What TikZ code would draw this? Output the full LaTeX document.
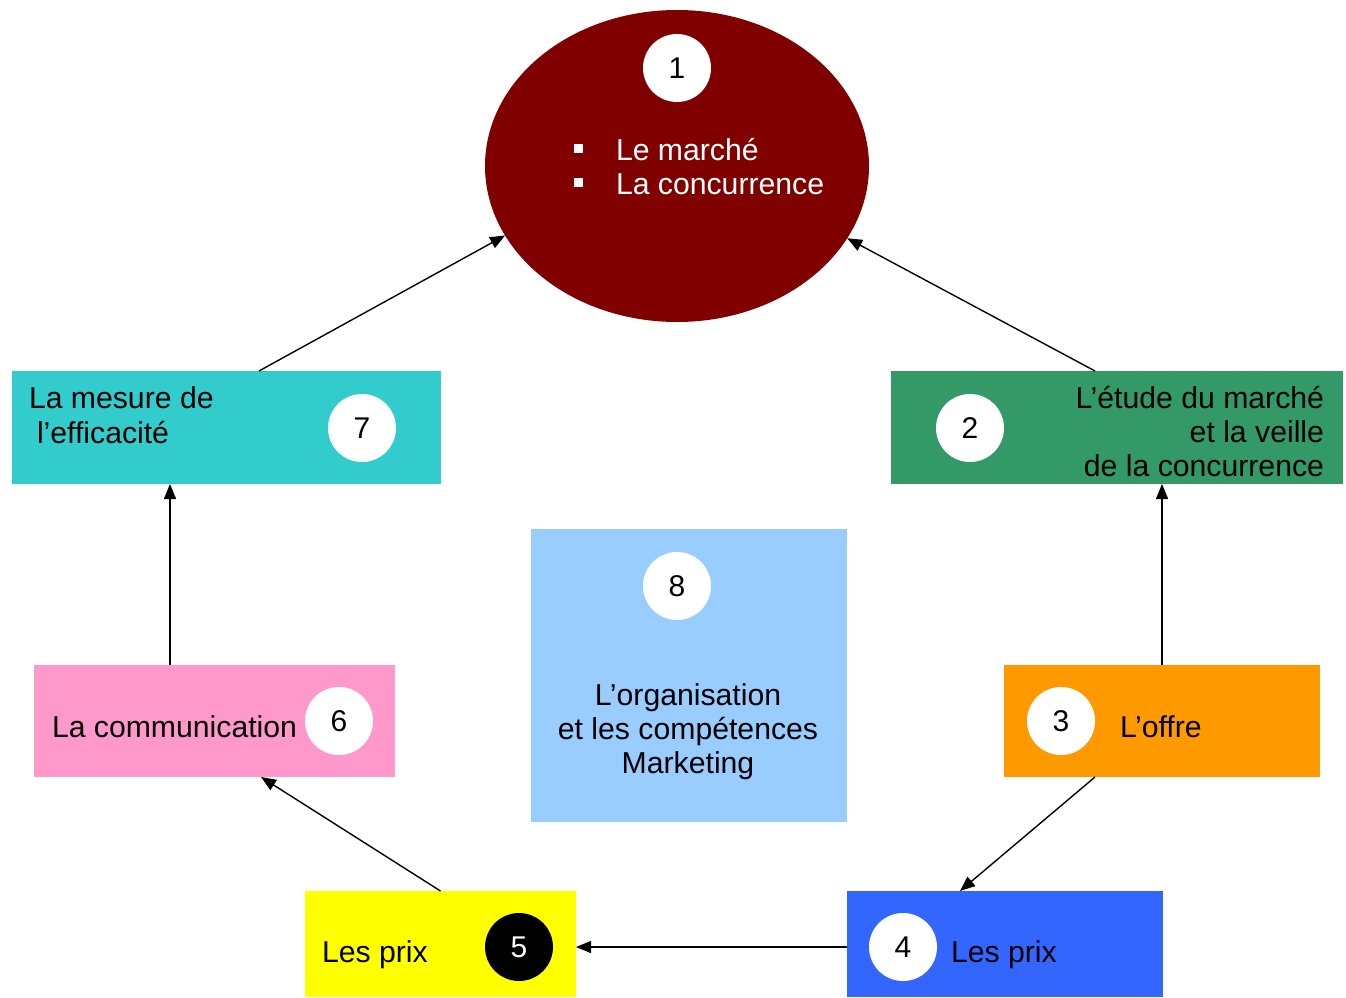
\documentclass[tikz,border=0pt]{standalone}
\usepackage{fontspec}
\setmainfont{Liberation Sans}
\usetikzlibrary{shapes.geometric,arrows.meta,calc}

\definecolor{cMarket}{HTML}{800000}
\definecolor{cMeasure}{HTML}{33CCCC}
\definecolor{cStudy}{HTML}{339966}
\definecolor{cOrg}{HTML}{99CCFF}
\definecolor{cComm}{HTML}{FF99CC}
\definecolor{cOffer}{HTML}{FF9900}
\definecolor{cPrixA}{HTML}{FFFF00}
\definecolor{cPrixB}{HTML}{3366FF}

\tikzset{
  stage/.style={rectangle, draw=none, inner sep=0pt, outer sep=0pt},
  badge/.style={circle, fill=white, draw=none, minimum size=68pt, inner sep=0pt, outer sep=0pt,
    font=\fontsize{30}{34}\selectfont},
  lbl/.style={inner sep=0pt, outer sep=0pt, font=\fontsize{30.2}{34}\selectfont},
  flow/.style={-{Triangle[length=15pt,width=12pt]}, line width=1.4pt, black},
  sqbullet/.style={rectangle, fill=white, draw=none, minimum size=9pt, inner sep=0pt}
}

\begin{document}
\begin{tikzpicture}[x=1pt, y=-1pt]
\useasboundingbox (0,0) rectangle (1346,998);

% central ellipse: the market
\node[ellipse, fill=cMarket, draw=none, minimum width=384pt, minimum height=312pt,
      inner sep=0pt, outer sep=0pt] (e) at (677,166) {};
\node[badge] (n1) at (677,68) {1};
\node[sqbullet] (bu1) at (578.5,148) {};
\node[sqbullet] (bu2) at (578.5,182) {};
\node[lbl, text=white, anchor=base west] (t1a) at (616,160) {Le marché};
\node[lbl, text=white, anchor=base west] (t1b) at (616,194) {La concurrence};

% stage boxes
\node[stage, fill=cMeasure, minimum width=429pt, minimum height=113pt] (b7) at (226.5,427.5) {};
\node[stage, fill=cStudy,   minimum width=452pt, minimum height=113pt] (b2) at (1117,427.5) {};
\node[stage, fill=cOrg,     minimum width=316pt, minimum height=293pt] (b8) at (689,675.5) {};
\node[stage, fill=cComm,    minimum width=361pt, minimum height=112pt] (b6) at (214.5,721) {};
\node[stage, fill=cOffer,   minimum width=316pt, minimum height=112pt] (b3) at (1162,721) {};
\node[stage, fill=cPrixA,   minimum width=271pt, minimum height=106pt] (b5) at (440.5,944) {};
\node[stage, fill=cPrixB,   minimum width=316pt, minimum height=106pt] (b4) at (1005,944) {};

% number badges
\node[badge] (n7) at (362,428) {7};
\node[badge] (n2) at (970,428) {2};
\node[badge] (n8) at (677,586) {8};
\node[badge] (n6) at (339,721) {6};
\node[badge] (n3) at (1061,721) {3};
\node[badge, fill=black, text=white] (n5) at (519,947) {5};
\node[badge] (n4) at (903,947) {4};

% box labels
\node[lbl, anchor=base west] (t7a) at (29,408) {La mesure de};
\node[lbl, anchor=base west] (t7b) at (37,443) {l’efficacité};
\node[lbl, anchor=base east] (t2a) at (1324,408) {L’étude du marché};
\node[lbl, anchor=base east] (t2b) at (1324,442) {et la veille};
\node[lbl, anchor=base east] (t2c) at (1324,476) {de la concurrence};
\node[lbl, anchor=base] (t8a) at (688,705) {L’organisation};
\node[lbl, anchor=base] (t8b) at (688,739) {et les compétences};
\node[lbl, anchor=base] (t8c) at (688,773) {Marketing};
\node[lbl, anchor=base west] (t6) at (52,737) {La communication};
\node[lbl, anchor=base west] (t3) at (1120,737) {L’offre};
\node[lbl, anchor=base west] (t5) at (322,962) {Les prix};
\node[lbl, anchor=base west] (t4) at (951,962) {Les prix};

% cycle connectors
\draw[flow] ($(b3.south west)+(91,0)$) -- ($(b4.north west)+(113,0)$);
\draw[flow] ($(b4.west)+(0,3)$) -- ($(b5.east)+(0,3)$);
\draw[flow] (b5.north) -- ($(b6.south west)+(227,0)$);
\draw[flow] ($(b6.north west)+(136,0)$) -- ($(b7.south west)+(158,0)$);
\draw[flow] ($(b7.north west)+(247,0)$) -- (e.202.5);
\draw[flow] ($(b2.north west)+(204,0)$) -- (e.337.5);
\draw[flow] (b3.north) -- ($(b2.south west)+(271,0)$);
\end{tikzpicture}
\end{document}
